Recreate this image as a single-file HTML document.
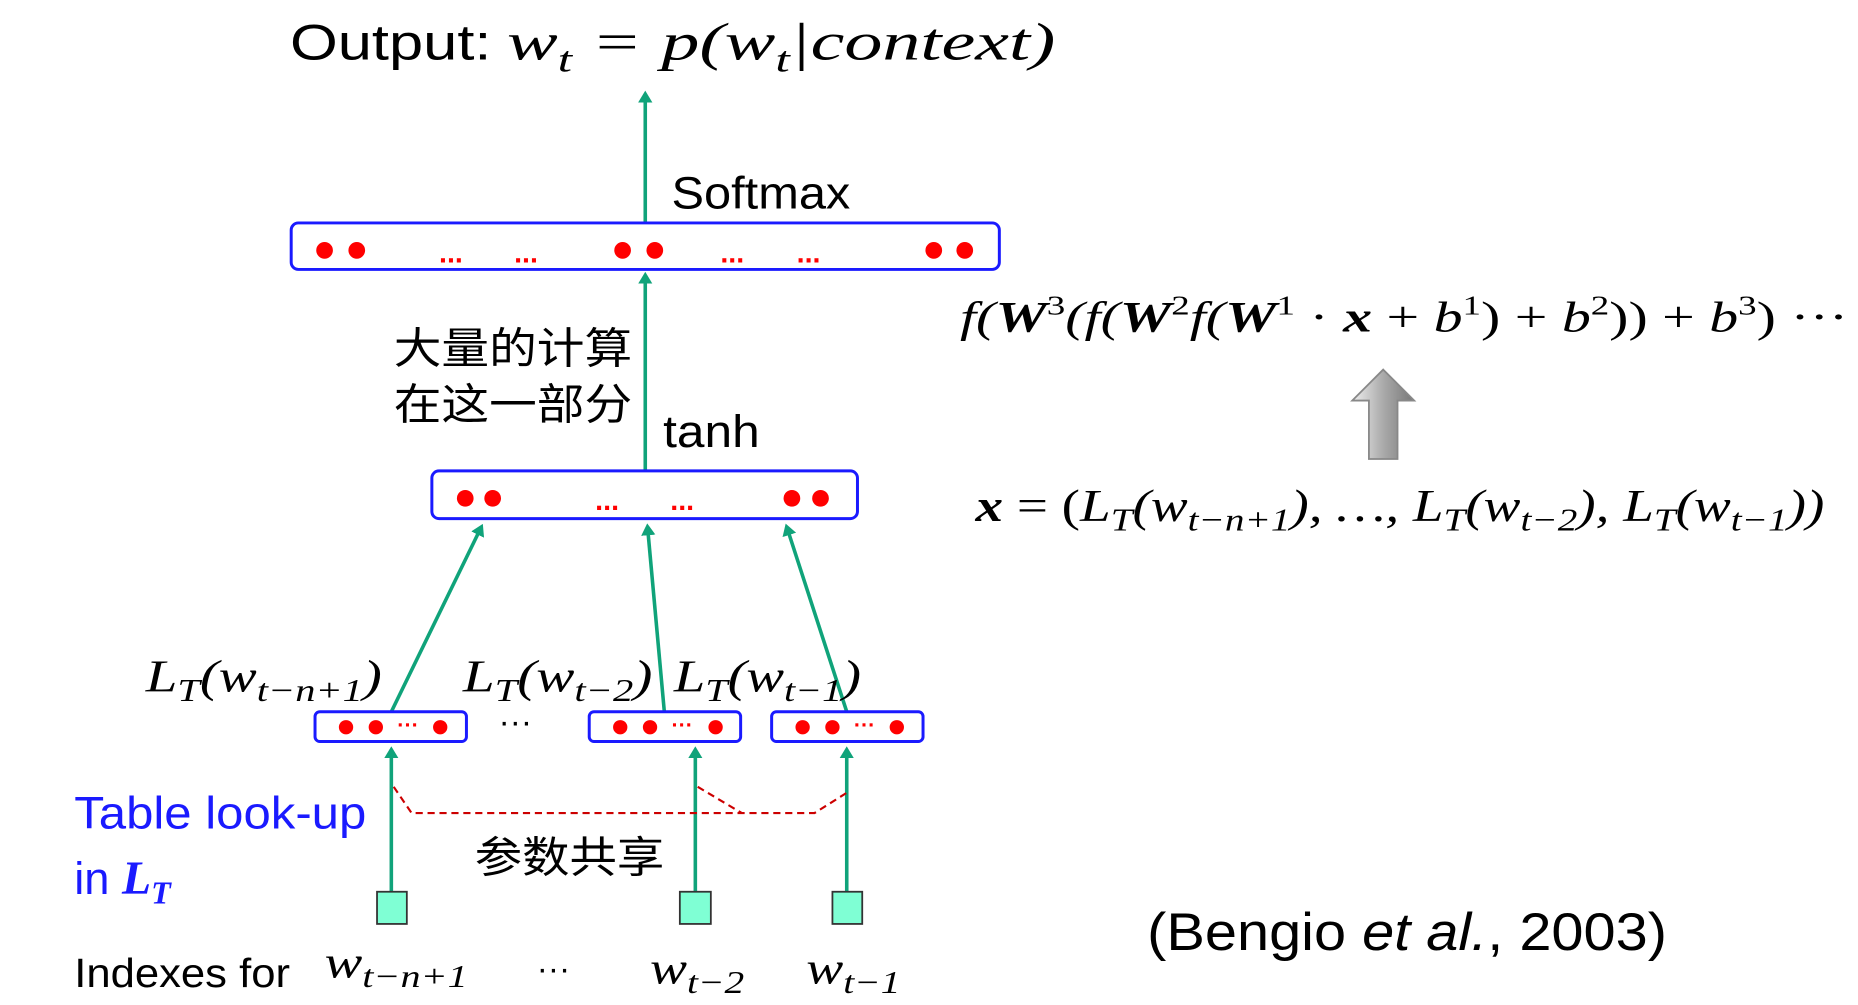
<!DOCTYPE html>
<html><head><meta charset="utf-8"><style>
html,body{margin:0;padding:0;background:#fff;}
svg{display:block;}
.s{font-family:"Liberation Sans","Noto Sans CJK SC",sans-serif;}
.m{font-family:"Liberation Serif",serif;font-style:italic;}
</style></head><body>
<svg width="1858" height="1005" viewBox="0 0 1558 843" xmlns="http://www.w3.org/2000/svg">
<defs>
<marker id="ah" markerWidth="10" markerHeight="12" refX="6" refY="6" orient="auto" markerUnits="userSpaceOnUse" viewBox="0 0 10 12">
<path d="M0,0 L10,6 L0,12 Z" fill="#10a37a"/></marker>
<linearGradient id="gg" x1="0" x2="1"><stop offset="0" stop-color="#eee"/><stop offset="0.5" stop-color="#aaa"/><stop offset="1" stop-color="#777"/></linearGradient>
</defs>
<g stroke="#10a37a" stroke-width="3" fill="none">
<line x1="541" y1="186" x2="541" y2="80" marker-end="url(#ah)"/>
<line x1="541" y1="394" x2="541" y2="232" marker-end="url(#ah)"/>
<line x1="328" y1="597" x2="403" y2="443" marker-end="url(#ah)"/>
<line x1="557" y1="597" x2="543" y2="443" marker-end="url(#ah)"/>
<line x1="710" y1="597" x2="660" y2="443" marker-end="url(#ah)"/>
<line x1="328" y1="748" x2="328" y2="630" marker-end="url(#ah)"/>
<line x1="583" y1="748" x2="583" y2="630" marker-end="url(#ah)"/>
<line x1="710" y1="748" x2="710" y2="630" marker-end="url(#ah)"/>
</g>
<g stroke="#1a1aff" stroke-width="2.5" fill="#fff">
<rect x="244" y="187" width="594" height="39" rx="6"/>
<rect x="362" y="395" width="357" height="40" rx="6"/>
<rect x="264" y="597" width="127" height="25" rx="4"/>
<rect x="494" y="597" width="127" height="25" rx="4"/>
<rect x="647" y="597" width="127" height="25" rx="4"/>
</g>
<g fill="#f00">
<circle cx="272" cy="210" r="7"/><circle cx="299" cy="210" r="7"/>
<circle cx="522" cy="210" r="7"/><circle cx="549" cy="210" r="7"/>
<circle cx="783" cy="210" r="7"/><circle cx="809" cy="210" r="7"/>
<circle cx="390" cy="418" r="7"/><circle cx="413" cy="418" r="7"/>
<circle cx="664" cy="418" r="7"/><circle cx="688" cy="418" r="7"/>
<circle cx="290" cy="610" r="6"/><circle cx="315" cy="610" r="6"/><circle cx="369" cy="610" r="6"/>
<circle cx="520" cy="610" r="6"/><circle cx="545" cy="610" r="6"/><circle cx="600" cy="610" r="6"/>
<circle cx="673" cy="610" r="6"/><circle cx="698" cy="610" r="6"/><circle cx="752" cy="610" r="6"/>
</g>
<g fill="#f00" class="s" font-size="24" font-weight="bold" text-anchor="middle">
<text x="378" y="220">...</text><text x="441" y="220">...</text>
<text x="614" y="220">...</text><text x="678" y="220">...</text>
<text x="509" y="428">...</text><text x="572" y="428">...</text>
<text x="342" y="614" font-size="18">···</text><text x="572" y="614" font-size="18">···</text><text x="725" y="614" font-size="18">···</text>
</g>
<g fill="#7fffd4" stroke="#333" stroke-width="1.5">
<rect x="316" y="748" width="25" height="27"/>
<rect x="570" y="748" width="26" height="27"/>
<rect x="698" y="748" width="25" height="27"/>
</g>
<g stroke="#c00" stroke-width="1.8" stroke-dasharray="6,4" fill="none">
<polyline points="330,660 345,682 683,682 710,665"/>
<line x1="585" y1="660" x2="622" y2="682"/>
</g>
<text x="243" y="50" class="s" font-size="42" textLength="169" lengthAdjust="spacingAndGlyphs">Output:</text>
<text x="425" y="50" class="m" font-size="44" textLength="460" lengthAdjust="spacingAndGlyphs">w<tspan font-size="30" dy="10">t</tspan><tspan dy="-10"> = p(w</tspan><tspan font-size="30" dy="10">t</tspan><tspan dy="-10">|context)</tspan></text>
<text x="563" y="175" class="s" font-size="38" textLength="150" lengthAdjust="spacingAndGlyphs">Softmax</text>
<text x="330" y="305" class="s" font-size="36" textLength="200" lengthAdjust="spacingAndGlyphs">大量的计算</text>
<text x="330" y="352" class="s" font-size="36" textLength="200" lengthAdjust="spacingAndGlyphs">在这一部分</text>
<text x="556" y="375" class="s" font-size="38" textLength="81" lengthAdjust="spacingAndGlyphs">tanh</text>
<text x="122" y="580" class="m" font-size="38" textLength="198" lengthAdjust="spacingAndGlyphs">L<tspan font-size="27" dy="8">T</tspan><tspan dy="-8">(w</tspan><tspan font-size="27" dy="8">t−n+1</tspan><tspan dy="-8">)</tspan></text>
<text x="388" y="580" class="m" font-size="38" textLength="159" lengthAdjust="spacingAndGlyphs">L<tspan font-size="27" dy="8">T</tspan><tspan dy="-8">(w</tspan><tspan font-size="27" dy="8">t−2</tspan><tspan dy="-8">)</tspan></text>
<text x="565" y="580" class="m" font-size="38" textLength="157" lengthAdjust="spacingAndGlyphs">L<tspan font-size="27" dy="8">T</tspan><tspan dy="-8">(w</tspan><tspan font-size="27" dy="8">t−1</tspan><tspan dy="-8">)</tspan></text>
<text x="418" y="615" class="s" font-size="28">···</text>
<text x="62" y="695" class="s" font-size="38" textLength="245" lengthAdjust="spacingAndGlyphs" fill="#1a1aff">Table look-up</text>
<text x="62" y="750" class="s" font-size="38" fill="#1a1aff">in <tspan class="m" font-weight="bold" font-size="40">L</tspan><tspan class="m" font-weight="bold" font-size="27" dy="8">T</tspan></text>
<text x="398" y="732" class="s" font-size="36" textLength="159" lengthAdjust="spacingAndGlyphs">参数共享</text>
<text x="62" y="828" class="s" font-size="34" textLength="181" lengthAdjust="spacingAndGlyphs">Indexes for</text>
<text x="272" y="820" class="m" font-size="38" textLength="120" lengthAdjust="spacingAndGlyphs">w<tspan font-size="27" dy="8">t−n+1</tspan></text>
<text x="450" y="822" class="s" font-size="28">···</text>
<text x="545" y="825" class="m" font-size="38" textLength="79" lengthAdjust="spacingAndGlyphs">w<tspan font-size="27" dy="8">t−2</tspan></text>
<text x="676" y="825" class="m" font-size="38" textLength="79" lengthAdjust="spacingAndGlyphs">w<tspan font-size="27" dy="8">t−1</tspan></text>
<text x="805" y="278" class="m" font-size="36" textLength="745" lengthAdjust="spacingAndGlyphs">f(<tspan font-weight="bold">W</tspan><tspan font-size="23" dy="-14" font-style="normal">3</tspan><tspan dy="14">(f(</tspan><tspan font-weight="bold">W</tspan><tspan font-size="23" dy="-14" font-style="normal">2</tspan><tspan dy="14">f(</tspan><tspan font-weight="bold">W</tspan><tspan font-size="23" dy="-14" font-style="normal">1</tspan><tspan dy="14" font-style="normal"> · </tspan><tspan font-weight="bold">x</tspan><tspan font-style="normal"> + </tspan>b<tspan font-size="23" dy="-14" font-style="normal">1</tspan><tspan dy="14" font-style="normal">) + </tspan>b<tspan font-size="23" dy="-14" font-style="normal">2</tspan><tspan dy="14" font-style="normal">)) + </tspan>b<tspan font-size="23" dy="-14" font-style="normal">3</tspan><tspan dy="14" font-style="normal">) ···</tspan></text>
<path d="M1160,310 L1186,336 L1172,336 L1172,385 L1148,385 L1148,336 L1134,336 Z" fill="url(#gg)" stroke="#888" stroke-width="1.5"/>
<text x="818" y="437" class="m" font-size="38" textLength="712" lengthAdjust="spacingAndGlyphs"><tspan font-weight="bold">x</tspan><tspan font-style="normal"> = (</tspan>L<tspan font-size="27" dy="8">T</tspan><tspan dy="-8">(w</tspan><tspan font-size="27" dy="8">t−n+1</tspan><tspan dy="-8">), …, L</tspan><tspan font-size="27" dy="8">T</tspan><tspan dy="-8">(w</tspan><tspan font-size="27" dy="8">t−2</tspan><tspan dy="-8">), L</tspan><tspan font-size="27" dy="8">T</tspan><tspan dy="-8">(w</tspan><tspan font-size="27" dy="8">t−1</tspan><tspan dy="-8">))</tspan></text>
<text x="962" y="797" class="s" font-size="44" textLength="436" lengthAdjust="spacingAndGlyphs">(Bengio <tspan font-style="italic">et al.</tspan>, 2003)</text>
</svg>
</body></html>
